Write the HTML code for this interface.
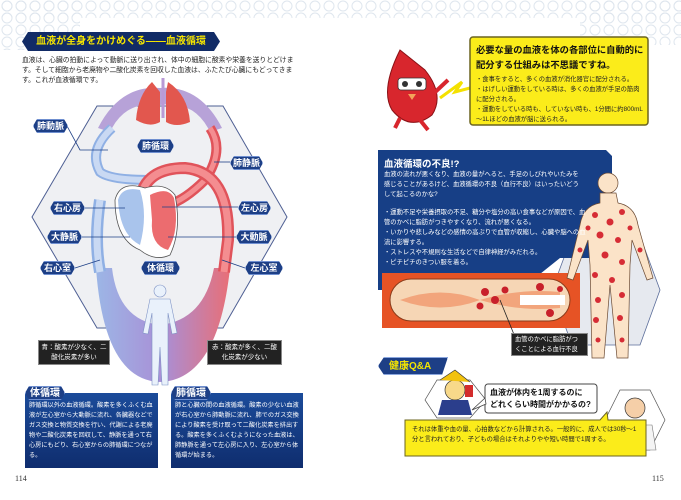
<!DOCTYPE html>
<html><head><meta charset="utf-8">
<style>
*{margin:0;padding:0;box-sizing:border-box}
body{width:681px;height:500px;background:#fff;position:relative;overflow:hidden;font-family:"Liberation Sans","Noto Sans CJK JP",sans-serif}
.a{position:absolute}
.pill{position:absolute;background:#1d3f86;color:#fff;font-weight:bold;font-size:9px;line-height:13px;height:14px;text-align:center;border-radius:3px;border:1px solid #6f8fd0;clip-path:polygon(4px 0,calc(100% - 4px) 0,100% 50%,calc(100% - 4px) 100%,4px 100%,0 50%)}
.t{font-size:7px;line-height:10px;color:#222}
.nb{background:linear-gradient(#1b4b9a,#0f2d6e);color:#fff;font-size:6.2px;line-height:10px;padding:8px 4px 3px;overflow:hidden}
.blk{background:#222;color:#fff;font-size:6.5px;line-height:10px;text-align:center;border:1px solid #888}
</style></head><body>
<svg class="a" style="left:0;top:0" width="681" height="500">
<defs>
<pattern id="hx" width="14" height="12" patternUnits="userSpaceOnUse"><circle cx="7" cy="6" r="5" fill="none" stroke="#dfe6ee" stroke-width="1"/></pattern>
<linearGradient id="vg" x1="0" x2="1"><stop offset="0" stop-color="#9cb6e6"/><stop offset=".5" stop-color="#a98fd6"/><stop offset="1" stop-color="#e86f77"/></linearGradient>
</defs>
<rect x="0" y="0" width="681" height="18" fill="url(#hx)"/>
<rect x="0" y="0" width="80" height="50" fill="url(#hx)"/>
<rect x="580" y="0" width="101" height="45" fill="url(#hx)"/>
<polygon points="97,106 223,106 287,217 223,328 97,328 32,217" fill="#eff0f3" stroke="#4e5f93" stroke-width="1"/>
<path d="M96,268 Q104,380 160,382 Q218,380 230,268 L214,268 Q204,320 160,325 Q118,320 112,268Z" fill="url(#vg)"/>
<path d="M98,128 Q120,85 160,88 Q200,85 222,128 L210,132 Q195,100 160,105 Q125,100 110,132Z" fill="#b7a2d8"/>
<path d="M112,128 Q88,150 100,172 Q110,180 150,180" fill="none" stroke="#8fb0e4" stroke-width="10"/>
<path d="M112,128 Q88,150 100,172 Q110,180 150,180" fill="none" stroke="#c9d9f3" stroke-width="6"/>
<path d="M100,200 Q94,240 100,272" fill="none" stroke="#8fb0e4" stroke-width="12"/>
<path d="M100,200 Q94,240 100,272" fill="none" stroke="#c9d9f3" stroke-width="7"/>
<path d="M210,128 Q225,150 205,180 Q185,200 168,205" fill="none" stroke="#e0535a" stroke-width="10"/>
<path d="M210,128 Q225,150 205,180 Q185,200 168,205" fill="none" stroke="#f48d90" stroke-width="5"/>
<path d="M140,200 Q145,168 185,168 Q230,172 228,240 L224,272" fill="none" stroke="#e0535a" stroke-width="12"/>
<path d="M140,200 Q145,168 185,168 Q230,172 228,240 L224,272" fill="none" stroke="#f48d90" stroke-width="7"/>
<path d="M152,82 Q138,95 136,120 Q150,128 160,122 L160,92Z" fill="#e2574e"/>
<path d="M168,82 Q188,95 190,122 Q176,128 166,122 L166,92Z" fill="#e2574e"/>
<line x1="163" y1="78" x2="163" y2="118" stroke="#b99ad6" stroke-width="3"/>
<path d="M115,200 Q120,180 145,188 Q165,182 175,195 Q182,230 170,255 Q155,262 140,250 Q115,240 115,200Z" fill="#fff" stroke="#555" stroke-width=".8"/>
<path d="M118,200 Q122,186 140,190 Q148,215 140,245 Q120,235 118,200Z" fill="#a9c4ec"/>
<path d="M150,195 Q168,186 174,198 Q180,230 168,250 Q150,245 152,220Z" fill="#ec6c6f"/>
<g fill="#e9f1fb" stroke="#7f93c5" stroke-width=".6">
<circle cx="160" cy="291" r="6"/>
<path d="M150,299 L170,299 L177,333 L172,334 L168,313 L168,385 L162,385 L160,347 L158,385 L152,385 L152,313 L148,334 L143,333Z"/>
</g>
<g stroke="#1d3f86" stroke-width=".8" fill="none">
<path d="M67,126 L80,150 L108,150"/><path d="M230,162 L214,162"/>
<path d="M85,208 L125,208"/><path d="M238,207 L162,207"/>
<path d="M82,237 L130,237"/><path d="M236,237 L168,237"/>
<path d="M75,268 L100,260"/><path d="M245,268 L222,260"/>
</g>
<path d="M400,50 Q380,90 392,110 Q410,132 432,115 Q445,95 425,70Z" fill="#d8262d" stroke="#8a1015" stroke-width="1"/>
<rect x="398" y="78" width="28" height="12" rx="3" fill="#fff" stroke="#333" stroke-width=".8"/>
<circle cx="405" cy="84" r="3" fill="#333"/><circle cx="419" cy="84" r="3" fill="#333"/>
<path d="M408,94 L416,94 L412,100Z" fill="#f3a35a"/>
<path d="M432,95 L448,80" stroke="#d8262d" stroke-width="4"/>
<path d="M400,118 L395,128 M420,120 L428,130" stroke="#d8262d" stroke-width="4"/>
<path d="M440,98 L462,82 L455,92 L470,88" fill="none" stroke="#f4e100" stroke-width="3"/>
<rect x="470" y="37" width="178" height="88" rx="3" fill="#fbec1a" stroke="#6b6420" stroke-width="1.5"/>
<polygon points="572,236 640,236 660,290 640,345 572,345 552,290" fill="#e6e9ef" stroke="#5b6d9a" stroke-width=".8"/>
<path d="M378,150 L606,150 L612,156 L612,258 L560,258 L520,290 L378,290Z" fill="#173f86"/>
<rect x="382" y="273" width="198" height="55" fill="#e65325"/>
<rect x="390" y="279" width="180" height="42" rx="21" fill="#f6d6b5" stroke="#8a3b1a" stroke-width="1"/>
<path d="M400,300 Q440,285 480,300 Q520,288 560,292 L560,308 Q520,312 480,300 Q440,315 400,300Z" fill="#f2a57c"/>
<path d="M520,295 L565,295 L565,305 L520,305Z" fill="#fff"/>
<g fill="#c8202a"><circle cx="485" cy="292" r="4"/><circle cx="495" cy="300" r="4"/><circle cx="505" cy="290" r="3.5"/><circle cx="540" cy="287" r="4"/><circle cx="550" cy="313" r="4"/><circle cx="480" cy="306" r="3.5"/><circle cx="560" cy="289" r="3"/></g>
<path d="M500,300 L515,337" stroke="#222" stroke-width=".8"/>
<g fill="#fbe3c8" stroke="#6b4a33" stroke-width=".7">
<circle cx="608" cy="183" r="10"/>
<path d="M600,193 L616,193 L618,203 Q635,206 638,225 L653,278 L647,280 L632,240 L630,265 L628,358 L617,358 L610,285 L604,358 L592,358 L590,265 L588,240 L573,280 L567,278 L580,225 Q583,206 600,203Z"/>
</g>
<g fill="#d62c35">
<circle cx="595" cy="215" r="3"/><circle cx="610" cy="222" r="3.5"/><circle cx="622" cy="212" r="3"/><circle cx="600" cy="235" r="3.5"/><circle cx="618" cy="240" r="3"/><circle cx="630" cy="228" r="2.5"/><circle cx="588" cy="228" r="2.5"/><circle cx="605" cy="255" r="3.5"/><circle cx="622" cy="262" r="3"/><circle cx="595" cy="275" r="3"/><circle cx="612" cy="280" r="3"/><circle cx="622" cy="295" r="3"/><circle cx="598" cy="300" r="3"/><circle cx="596" cy="320" r="3"/><circle cx="620" cy="318" r="3"/><circle cx="598" cy="340" r="2.5"/><circle cx="622" cy="340" r="2.5"/><circle cx="640" cy="250" r="2.5"/><circle cx="580" cy="250" r="2.5"/>
</g>
<polygon points="437,380 470,380 486,400 470,418 437,418 425,400" fill="#fff" stroke="#555" stroke-width=".7"/>
<circle cx="455" cy="390" r="10" fill="#f8d98a" stroke="#333" stroke-width=".7"/>
<path d="M440,380 L455,370 L470,382" fill="#f2c20f" stroke="#333" stroke-width=".7"/>
<path d="M442,400 L468,400 L472,415 L438,415Z" fill="#2b3e8c"/>
<rect x="465" y="385" width="8" height="12" fill="#d32c2c"/>
<polygon points="620,390 650,390 665,420 650,450 620,450 605,420" fill="#fff" stroke="#555" stroke-width=".7"/>
<circle cx="635" cy="408" r="10" fill="#f5cfa8" stroke="#333" stroke-width=".7"/>
<path d="M618,425 L652,425 L656,450 L614,450Z" fill="#f4f4f4" stroke="#777" stroke-width=".6"/>
<path d="M633,425 L637,425 L637,450 L633,450Z" fill="#b41f1f"/>
<rect x="485" y="384" width="112" height="29" rx="3" fill="#fff" stroke="#444" stroke-width="1"/>
<path d="M485,398 L472,410 L486,404Z" fill="#fff" stroke="#444" stroke-width=".8"/>
<path d="M405,420 L600,420 L607,412 L608,420 L646,420 L646,456 L405,456Z" fill="#fbec1a" stroke="#6b6420" stroke-width="1"/>
</svg>

<div class="a" style="left:22px;top:32px;width:198px;height:19px;background:#112b66;clip-path:polygon(6px 0,192px 0,198px 50%,192px 100%,6px 100%,0 50%);color:#f4e400;font-weight:bold;font-size:10px;line-height:19px;text-align:center;white-space:nowrap">血液が全身をかけめぐる――血液循環</div>
<div class="a t" style="left:22px;top:56px;width:272px;font-size:6.8px">血液は、心臓の拍動によって動脈に送り出され、体中の細胞に酸素や栄養を送りとどけます。そして細胞から老廃物や二酸化炭素を回収した血液は、ふたたび心臓にもどってきます。これが血液循環です。</div>
<div class="pill" style="left:33px;top:119px;width:35px">肺動脈</div>
<div class="pill" style="left:137px;top:139px;width:37px">肺循環</div>
<div class="pill" style="left:230px;top:156px;width:33px">肺静脈</div>
<div class="pill" style="left:50px;top:201px;width:35px">右心房</div>
<div class="pill" style="left:238px;top:201px;width:33px">左心房</div>
<div class="pill" style="left:47px;top:230px;width:35px">大静脈</div>
<div class="pill" style="left:236px;top:230px;width:36px">大動脈</div>
<div class="pill" style="left:40px;top:261px;width:35px">右心室</div>
<div class="pill" style="left:141px;top:261px;width:39px">体循環</div>
<div class="pill" style="left:245px;top:261px;width:38px">左心室</div>
<div class="a blk" style="left:38px;top:340px;width:72px;height:25px;padding-top:2px">青：酸素が少なく、二<br>酸化炭素が多い</div>
<div class="a blk" style="left:207px;top:340px;width:75px;height:25px;padding-top:2px">赤：酸素が多く、二酸<br>化炭素が少ない</div>
<div class="a nb" style="left:25px;top:393px;width:133px;height:75px">肺循環以外の血液循環。酸素を多くふくむ血液が左心室から大動脈に流れ、各臓器などでガス交換と物質交換を行い、代謝による老廃物や二酸化炭素を回収して、静脈を通って右心房にもどり、右心室からの肺循環につながる。</div>
<div class="pill" style="left:25px;top:386px;width:40px;font-size:10px;border-radius:4px">体循環</div>
<div class="a nb" style="left:171px;top:393px;width:132px;height:75px">肺と心臓の間の血液循環。酸素の少ない血液が右心室から肺動脈に流れ、肺でのガス交換により酸素を受け取って二酸化炭素を排出する。酸素を多くふくむようになった血液は、肺静脈を通って左心房に入り、左心室から体循環が始まる。</div>
<div class="pill" style="left:171px;top:386px;width:40px;font-size:10px;border-radius:4px">肺循環</div>
<div class="a" style="left:15px;top:474px;font-size:8px;color:#333;font-family:'Liberation Serif',serif">114</div>

<div class="a" style="left:476px;top:43px;width:170px;font-weight:bold;font-size:9.3px;line-height:15px;color:#111">必要な量の血液を体の各部位に自動的に配分する仕組みは不思議ですね。</div>
<div class="a t" style="left:476px;top:75px;width:168px;line-height:10px;font-size:6.3px">・食事をすると、多くの血液が消化器官に配分される。<br>・はげしい運動をしている時は、多くの血液が手足の筋肉に配分される。<br>・運動をしている時も、していない時も、1分間に約800mL～1Lほどの血液が脳に送られる。</div>
<div class="a" style="left:384px;top:156px;color:#fff;font-weight:bold;font-size:9.5px">血液循環の不良!?</div>
<div class="a" style="left:384px;top:170px;width:200px;color:#fff;font-size:6.3px;line-height:10px">血液の流れが悪くなり、血液の量がへると、手足のしびれやいたみを感じることがあるけど、血液循環の不良（血行不良）はいったいどうして起こるのかな?</div>
<div class="a" style="left:384px;top:208px;width:205px;color:#fff;font-size:6.3px;line-height:10px">・運動不足や栄養摂取の不足、糖分や塩分の高い食事などが原因で、血管のかべに脂肪がつきやすくなり、流れが悪くなる。<br>・いかりや悲しみなどの感情の高ぶりで血管が収縮し、心臓や脳への血流に影響する。<br>・ストレスや不規則な生活などで自律神経がみだれる。<br>・ピチピチのきつい服を着る。</div>
<div class="a blk" style="left:511px;top:333px;width:77px;height:23px;text-align:left;padding:1px 3px;font-size:6.3px">血管のかべに脂肪がつくことによる血行不良</div>
<div class="a" style="left:378px;top:357px;width:70px;height:18px;background:#1d3f86;border:1px solid #8aa6de;clip-path:polygon(6px 0,100% 0,calc(100% - 6px) 100%,6px 100%,0 50%);color:#f4e400;font-weight:bold;font-size:10px;line-height:17px;padding-left:10px">健康Q&amp;A</div>
<div class="a" style="left:490px;top:387px;width:106px;font-weight:bold;font-size:8px;line-height:12px;color:#111">血液が体内を1周するのに<br>どれくらい時間がかかるの?</div>
<div class="a t" style="left:412px;top:425px;width:230px;font-size:6.3px;line-height:9.5px">それは体重や血の量、心拍数などから計算される。一般的に、成人では30秒～1分と言われており、子どもの場合はそれよりやや短い時間で1周する。</div>
<div class="a" style="left:652px;top:474px;font-size:8px;color:#333;font-family:'Liberation Serif',serif">115</div>
</body></html>
